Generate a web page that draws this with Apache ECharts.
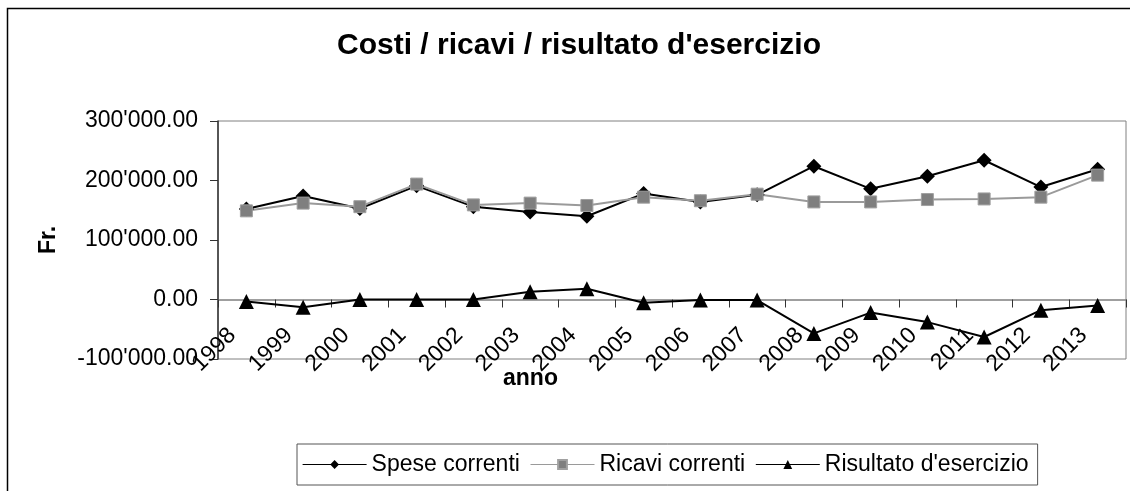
<!DOCTYPE html>
<html>
<head>
<meta charset="utf-8">
<script src="https://cdn.jsdelivr.net/npm/echarts@6/dist/echarts.min.js"></script>
<style>
html,body{margin:0;padding:0;background:#fff;}
#costi{width:1130px;height:491px;}
</style>
</head>
<body>
<div id="costi"></div>
<script>
// anni e valori
let anni = ['1998','1999','2000','2001','2002','2003','2004','2005','2006','2007','2008','2009','2010','2011','2012','2013']
let spese = [152000,174000,153000,191000,156000,147000,140000,178000,164000,176000,224000,186000,207000,234000,189000,219000]
let ricavi = [149000,162000,156000,194000,159000,162000,158000,172000,166000,177000,164000,164000,168000,169000,172000,209000]
let risultato = [-3500,-13000,0,0,0,13000,18000,-5500,-1000,-1000,-57000,-22000,-38000,-63000,-18000,-10000]
let nomi = ['Spese correnti','Ricavi correnti',"Risultato d'esercizio"]

// 300000 -> 300'000.00
function fr(v){
    let neg = v < 0
    let s = Math.abs(v).toFixed(2).split('.')
    let intero = s[0].replace(/\B(?=(\d{3})+(?!\d))/g, "'")
    return (neg ? '-' : '') + intero + '.' + s[1]
}

let font = 'Liberation Sans, Arial, sans-serif'
let mycharts = echarts.init(document.getElementById('costi'))
let options = {
    animation:false,
    textStyle:{fontFamily:font},
    title:[
        {
            text:"Costi / ricavi / risultato d'esercizio",
            left:337,
            top:31,
            padding:0,
            textStyle:{fontSize:30,fontWeight:'bold',color:'#000',fontFamily:font}
        },
        {
            text:'anno',
            left:503,
            top:367,
            padding:0,
            textStyle:{fontSize:23,fontWeight:'bold',color:'#000',fontFamily:font}
        }
    ],
    graphic:[
        {
            type:'rect',
            shape:{x:7.5,y:8.5,width:1300,height:700},
            style:{fill:null,stroke:'#000',lineWidth:1.5},
            silent:true
        }
    ],
    legend:{
        data:nomi,
        left:297,
        top:444,
        width:760,
        padding:[9,9,9,5],
        itemGap:10,
        itemWidth:64,
        itemHeight:11,
        lineStyle:{width:1.2},
        borderColor:'#555',
        borderWidth:1,
        textStyle:{fontSize:23,color:'#000',fontFamily:font}
    },
    grid:{
        left:218,
        right:4,
        top:121,
        bottom:132,
        show:true,
        borderColor:'#808080',
        borderWidth:1,
        containLabel:false
    },
    xAxis:{
        type:'category',
        data:anni,
        boundaryGap:true,
        position:'bottom',
        offset:-59.5,
        axisLine:{onZero:false,lineStyle:{color:'#808080',width:1.5}},
        axisTick:{show:true,inside:false,length:8,lineStyle:{color:'#333'}},
        axisLabel:{
            rotate:45,
            margin:18,
            padding:[0,20,0,0],
            interval:0,
            fontSize:23,
            color:'#000',
            fontFamily:font
        },
        splitLine:{show:false}
    },
    yAxis:{
        type:'value',
        min:-100000,
        max:300000,
        interval:100000,
        name:'Fr.',
        nameLocation:'middle',
        nameGap:158,
        nameRotate:90,
        nameTextStyle:{fontSize:23,fontWeight:'bold',color:'#000',fontFamily:font},
        axisLine:{show:true,lineStyle:{color:'#333',width:1.5}},
        axisTick:{show:true,length:8,lineStyle:{color:'#333'}},
        axisLabel:{
            margin:20,
            fontSize:23,
            color:'#000',
            fontFamily:font,
            formatter:fr
        },
        splitLine:{show:false}
    },
    series:[
        {
            name:nomi[0],
            type:'line',
            data:spese,
            symbol:'diamond',
            symbolSize:15,
            itemStyle:{color:'#000'},
            lineStyle:{color:'#000',width:2}
        },
        {
            name:nomi[1],
            type:'line',
            data:ricavi,
            symbol:'rect',
            symbolSize:12,
            itemStyle:{color:'#7f7f7f',borderColor:'#a0a0a0',borderWidth:1},
            lineStyle:{color:'#9a9a9a',width:2}
        },
        {
            name:nomi[2],
            type:'line',
            data:risultato,
            symbol:'triangle',
            symbolSize:15,
            itemStyle:{color:'#000'},
            lineStyle:{color:'#000',width:2}
        }
    ]
}
mycharts.setOption(options,true)
window.addEventListener('resize',()=>mycharts.resize())
</script>
</body>
</html>
